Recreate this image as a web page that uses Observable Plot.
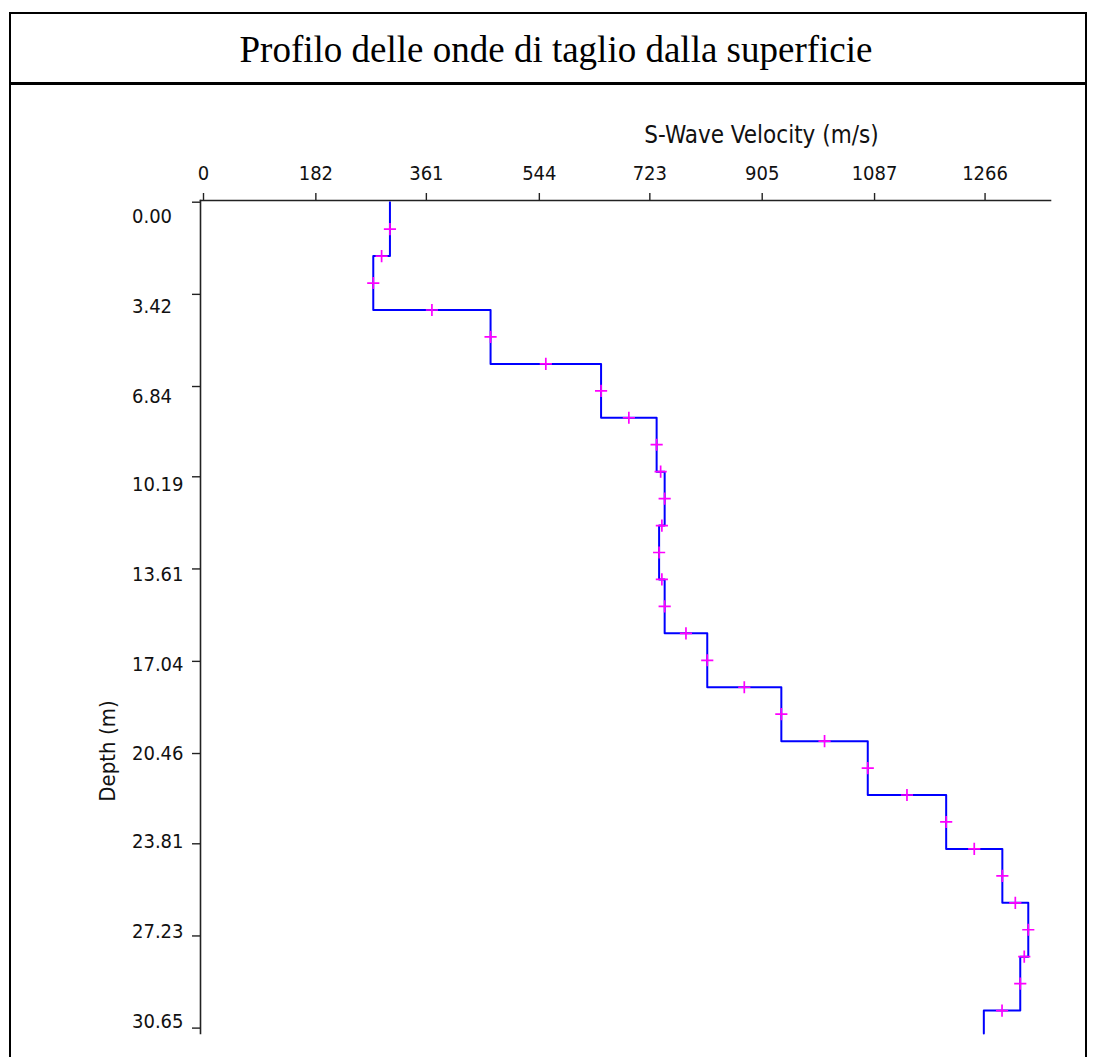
<!DOCTYPE html>
<html>
<head>
<meta charset="utf-8">
<script src="https://cdn.jsdelivr.net/npm/d3@7"></script>
<script src="https://cdn.jsdelivr.net/npm/@observablehq/plot@0.6"></script>
<style>
  html, body { margin: 0; padding: 0; background: #fff; }
  #box {
    position: absolute; left: 9px; top: 12px; width: 1078px;
    box-sizing: border-box; border: 2px solid #000; background: #fff;
  }
  #title {
    height: 64px; line-height: 64px; padding-top: 4px; border-bottom: 3px solid #000;
    font-family: "Liberation Serif", "Times New Roman", serif; font-size: 37px;
    text-align: center; padding-left: 16px; color: #000; white-space: nowrap;
  }
  #chart svg { display: block; }
</style>
</head>
<body>
<div id="box">
  <div id="title">Profilo delle onde di taglio dalla superficie</div>
  <div id="chart"></div>
</div>
<script>
// Layered shear-wave velocity model (depth in m, velocity in m/s)
const layerTop    = [0, 2, 4, 6, 8, 10, 12, 14, 16, 18, 20, 22, 24, 26, 28, 30];
const layerBottom = [2, 4, 6, 8, 10, 12, 14, 16, 18, 20, 22, 24, 26, 28, 30, 30.85];
const velocity    = [302, 275, 465, 644, 734, 747, 738, 747, 816, 936, 1076, 1203, 1294, 1336, 1323, 1264];

const xTicks = [0, 182, 361, 544, 723, 905, 1087, 1266];
const yTicks = [0, 3.42, 6.84, 10.19, 13.61, 17.04, 20.46, 23.81, 27.23, 30.65];

const xLabel = "S-Wave Velocity (m/s)";
const yLabel = "Depth (m)";

// Step-profile polyline
const profile = [];
velocity.forEach((v, i) => {
  profile.push({v, d: layerTop[i]});
  profile.push({v, d: layerBottom[i]});
});

// Markers at the middle of each segment (except the final partial layer)
const markers = [];
velocity.forEach((v, i) => {
  if (i < velocity.length - 1) {
    markers.push({v, d: (layerTop[i] + layerBottom[i]) / 2});
    markers.push({v: (v + velocity[i + 1]) / 2, d: layerBottom[i]});
  }
});

const font = '"DejaVu Sans Condensed", "DejaVu Sans", sans-serif';

// In the original the depth labels drift slightly from their tick marks
// (they sit a little below near the top and a little above near the bottom).
const labelDepth = d => d * 0.9737 + 0.55;

const chart = Plot.plot({
  width: 1074,
  height: 990,
  marginLeft: 189,
  marginTop: 115,
  marginRight: 35,
  marginBottom: 42,
  style: {fontFamily: font, fontStretch: "condensed", fontSize: "20px", color: "#111", background: "#fff"},
  x: {domain: [0, 1372], insetLeft: 3, axis: null},
  y: {domain: [0, 30.85], insetTop: 1.7, reverse: true, axis: null},
  marks: [
    Plot.frame({anchor: "top", stroke: "#222", strokeWidth: 1.6}),
    Plot.frame({anchor: "left", stroke: "#222", strokeWidth: 1.6}),
    Plot.axisX({anchor: "top", ticks: xTicks, tickFormat: d => String(d), tickSize: 8, tickPadding: 13, label: null, stroke: "#222", strokeWidth: 1.4, fill: "#111"}),
    Plot.axisY({anchor: "left", ticks: yTicks, tickFormat: () => "", tickSize: 8, label: null, stroke: "#222", strokeWidth: 1.4}),
    Plot.text(yTicks, {y: labelDepth, frameAnchor: "left", text: d => d.toFixed(2), textAnchor: "start", lineAnchor: "middle", dx: -68.5, fontSize: 20, fill: "#111"}),
    Plot.text([xLabel], {frameAnchor: "top", text: d => d, dx: 136, dy: -58, lineAnchor: "bottom", textAnchor: "middle", fontSize: 24, fill: "#111"}),
    Plot.text([yLabel], {frameAnchor: "left", text: d => d, dx: -93, dy: 134, rotate: -90, textAnchor: "middle", lineAnchor: "middle", fontSize: 22, fill: "#111"}),
    Plot.line(profile, {x: "v", y: "d", stroke: "#0000ff", strokeWidth: 2, curve: "linear"}),
    Plot.dot(markers, {x: "v", y: "d", symbol: "plus", r: 4, stroke: "#ff00ff", strokeWidth: 1.7})
  ]
});
document.getElementById("chart").appendChild(chart);
</script>
</body>
</html>
